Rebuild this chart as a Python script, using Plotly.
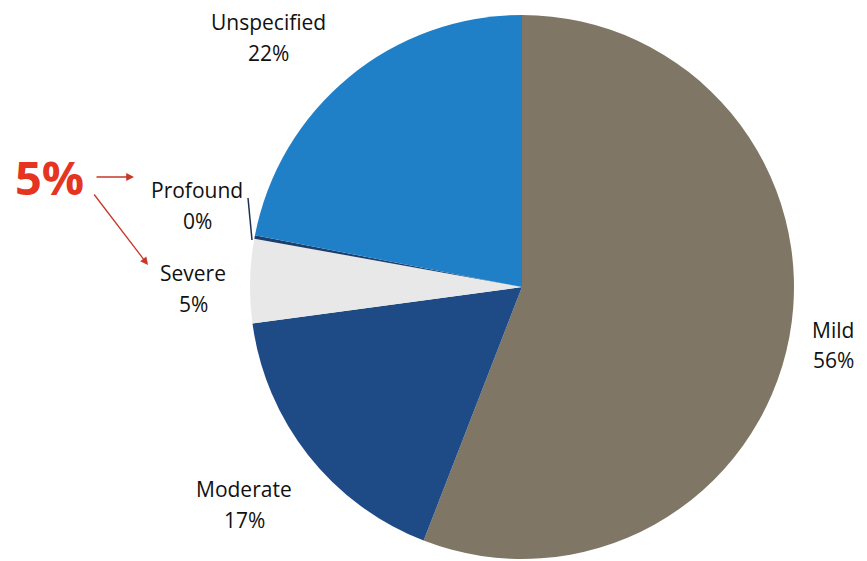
import plotly.graph_objects as go

# Severity breakdown
categories = ["Mild", "Moderate", "Severe", "Profound", "Unspecified"]
values = [56, 17, 5, 0.2, 22]
colors = ["#7f7666", "#1e4b86", "#e8e8e8", "#1d3f6e", "#1f80c8"]

# Label anchor points (pixels in the 867x561 canvas): (x, name line y, percent line y)
label_pos = {
    "Mild": (833, 330, 360),
    "Moderate": (244, 489, 520),
    "Severe": (193, 273, 304),
    "Profound": (197, 190, 221),
    "Unspecified": (268, 22, 53),
}

W, H = 867, 561
total = sum(values)

fig = go.Figure(
    go.Pie(
        labels=categories,
        values=values,
        marker=dict(colors=colors, line=dict(width=0)),
        sort=False,
        direction="clockwise",
        rotation=0,
        textinfo="none",
        hoverinfo="label+percent",
        showlegend=False,
        domain=dict(x=[250 / W, 794 / W], y=[2 / H, 546 / H]),
    )
)

font_family = "Open Sans, Noto Sans, sans-serif"
label_font = dict(family=font_family, size=21, color="#111111")
annotations = []
for cat, val in zip(categories, values):
    px, py1, py2 = label_pos[cat]
    pct = round(val / total * 100)
    for txt, py in ((cat, py1), (f"{pct}%", py2)):
        annotations.append(
            dict(
                x=px / W, y=1 - py / H, xref="paper", yref="paper",
                text=txt, showarrow=False, font=label_font,
                xanchor="center", yanchor="middle",
            )
        )

# Highlight: combined severe + profound share
annotations.append(
    dict(
        x=49 / W, y=1 - 177 / H, xref="paper", yref="paper",
        text="<b>5%</b>", showarrow=False,
        font=dict(family=font_family, size=47, color="#e5341f"),
        xanchor="center", yanchor="middle",
    )
)
arrow_color = "#c8372a"
annotations.append(
    dict(
        x=134 / W, y=1 - 177 / H, xref="paper", yref="paper",
        ax=95 - 134, ay=0, axref="pixel", ayref="pixel",
        text="", showarrow=True, arrowhead=2, arrowsize=1.2,
        arrowwidth=1.3, arrowcolor=arrow_color,
    )
)
annotations.append(
    dict(
        x=148 / W, y=1 - 265 / H, xref="paper", yref="paper",
        ax=93 - 148, ay=193 - 265, axref="pixel", ayref="pixel",
        text="", showarrow=True, arrowhead=2, arrowsize=1.2,
        arrowwidth=1.3, arrowcolor=arrow_color,
    )
)

# Leader line for the thin Profound slice
shapes = [
    dict(
        type="line", xref="paper", yref="paper",
        x0=248 / W, y0=1 - 198 / H, x1=252 / W, y1=1 - 240 / H,
        line=dict(color="#1d3050", width=1.5),
    )
]

fig.update_layout(
    width=W, height=H,
    margin=dict(l=0, r=0, t=0, b=0),
    paper_bgcolor="white",
    plot_bgcolor="white",
    annotations=annotations,
    shapes=shapes,
)

fig.write_html("out.html")
